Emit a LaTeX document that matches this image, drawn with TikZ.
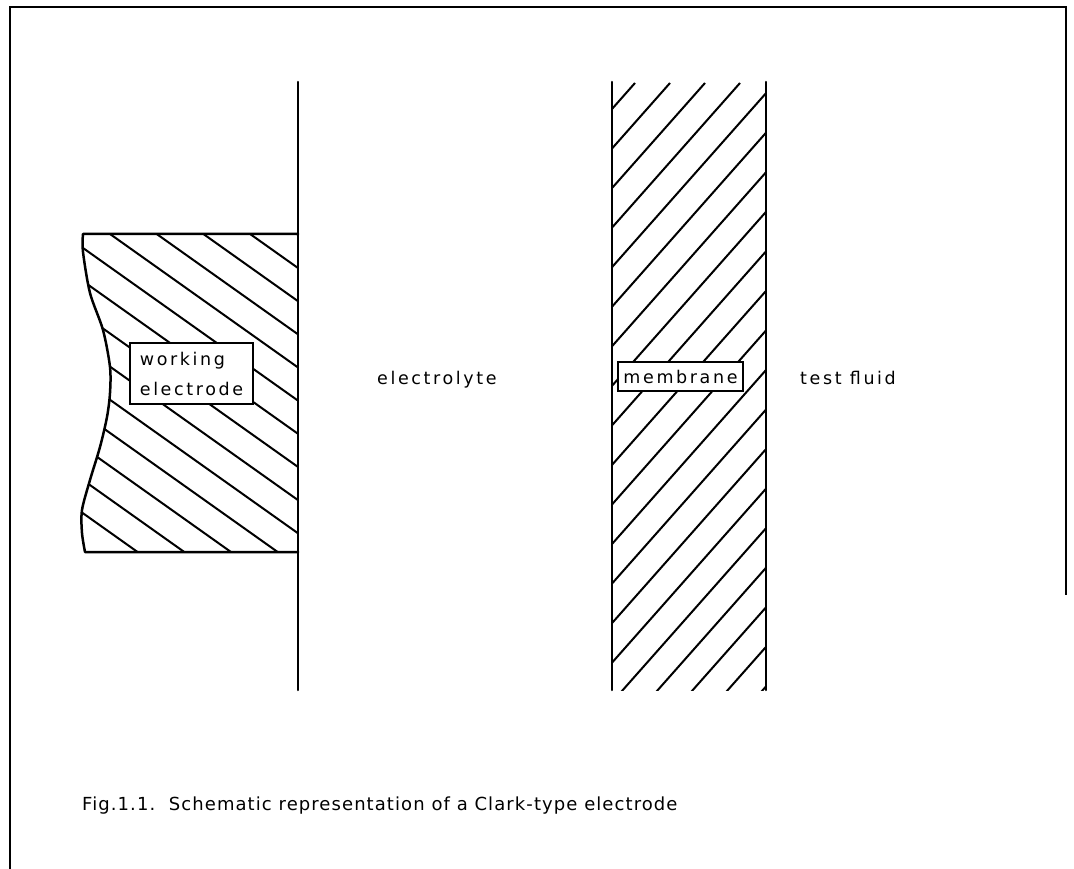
\documentclass[tikz,border=0pt]{standalone}
\usepackage{fontspec}
\setmainfont{DejaVu Sans}
\newfontfamily\lblfont[LetterSpace=15]{DejaVu Sans}
\newfontfamily\capfont[LetterSpace=6]{DejaVu Sans}
\begin{document}
\begin{tikzpicture}[x=1pt,y=-1pt,
  ln/.style={line width=2.5pt,line cap=round,line join=round},
  hatchln/.style={line width=2pt},
  lbl/.style={font=\lblfont\fontsize{17.5}{30}\selectfont,inner sep=0pt},
  boxlbl/.style={draw,fill=white,line width=2pt,font=\lblfont\fontsize{17.5}{30}\selectfont,inner sep=0pt}]
\useasboundingbox (0,0) rectangle (1074,869);
% frame
\draw[line width=2.8pt] (10,869) -- (10,7) -- (1066,7) -- (1066,595);
% electrode hatching
\begin{scope}
\clip (298,234) -- (83,234) -- plot[smooth] coordinates {(83,234) (83,252) (90,293) (103,330) (110,367) (110,393) (107,417) (100,447) (90,480) (82,510) (82,533) (85,552)} -- (298,552) -- cycle;
\foreach \k in {-9,...,5}{
  \pgfmathsetmacro{\xo}{110+46.7*\k}
  \draw[hatchln] (\xo-300,234-0.71*300) -- (\xo+500,234+0.71*500);
}
\end{scope}
% electrode outline
\draw[ln] (298,234) -- (83,234) -- plot[smooth] coordinates {(83,234) (83,252) (90,293) (103,330) (110,367) (110,393) (107,417) (100,447) (90,480) (82,510) (82,533) (85,552)} -- (298,552);
% electrolyte boundary
\draw[ln] (298,82) -- (298,690);
% membrane hatching
\begin{scope}
\clip (612,82) rectangle (766,690);
\foreach \k in {0,...,20}{
  \pgfmathsetmacro{\xo}{635+35*\k}
  \draw[hatchln] (\xo,83) -- (\xo-700,83+1.13*700);
}
\end{scope}
\draw[ln] (612,82) -- (612,690);
\draw[ln] (766,82) -- (766,690);
% labels
\node[boxlbl,minimum width=123pt,minimum height=61pt,align=left] (we) at (191.5,373.5) {working\\electrode};
\node[boxlbl,minimum width=125pt,minimum height=29pt] (mem) at (680.5,376.5) {membrane};
\node[lbl,anchor=base west] (el) at (377,384) {electrolyte};
\node[lbl,anchor=base west] (tf) at (800,384) {test fluid};
\node[anchor=base west,inner sep=0pt,font=\capfont\fontsize{18}{20}\selectfont] (cap) at (82,810) {Fig.1.1.\ \ Schematic representation of a Clark-type electrode};
\end{tikzpicture}
\end{document}
